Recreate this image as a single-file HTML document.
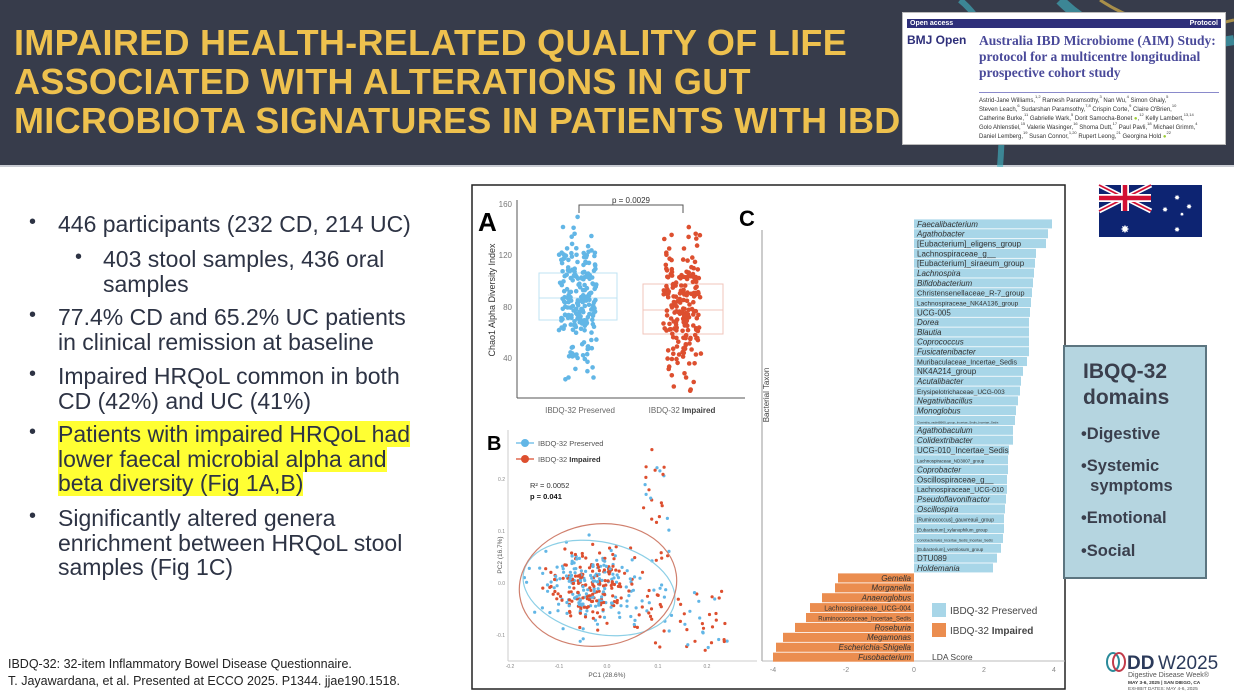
<!DOCTYPE html>
<html><head><meta charset="utf-8">
<style>
*{margin:0;padding:0;box-sizing:border-box}
body{width:1234px;height:691px;overflow:hidden;background:#fff;font-family:"Liberation Sans",Arial,sans-serif;position:relative}
#hdr{position:absolute;left:0;top:0;width:1234px;height:167px;background:#373c4b;border-bottom:2px solid #c9ccd3}
#title{position:absolute;left:14px;top:23px;color:#eec14e;font-weight:bold;font-size:36px;line-height:39px;letter-spacing:0.3px;white-space:nowrap}
.t{position:absolute;color:#2d3344;font-size:23px;line-height:24.5px;white-space:nowrap}
.dot{position:absolute;color:#2d3344;font-size:20px}
.hl{background:#ffff33}
.fn{position:absolute;left:8px;font-size:12.5px;color:#222}
#paper{position:absolute;left:902px;top:12px;width:324px;height:133px;background:#fff;border:1px solid #bbb;overflow:hidden}
#ibq{position:absolute;left:1063px;top:345px;width:144px;height:234px;background:#b5d5e0;border:2px solid #5c7580;color:#3a3f4d;font-weight:bold}
.s{font-size:4px;vertical-align:top;line-height:0}
</style></head><body>
<div id="hdr">
<svg width="1234" height="167" style="position:absolute;left:0;top:0">
<path d="M960 0 Q1010 40 1000 167" stroke="#3fb7c7" stroke-width="6" fill="none" opacity="0.6"/>
<path d="M1060 0 Q1120 60 1234 40" stroke="#3fb7c7" stroke-width="10" fill="none" opacity="0.6"/>
<path d="M1100 0 Q1160 40 1234 20" stroke="#d9b24a" stroke-width="3" fill="none" opacity="0.7"/>
</svg>
<div id="title">IMPAIRED HEALTH-RELATED QUALITY OF LIFE<br>ASSOCIATED WITH ALTERATIONS IN GUT<br>MICROBIOTA SIGNATURES IN PATIENTS WITH IBD</div>
<div id="paper">
<div style="position:absolute;left:4px;top:6px;width:314px;height:9px;background:#2e2f7a;color:#fff;font-size:7px;font-weight:bold;line-height:9px;padding:0 3px">Open access<span style="float:right">Protocol</span></div>
<div style="position:absolute;left:4px;top:20px;font-size:12px;font-weight:bold;color:#2e2f7a">BMJ Open</div>
<div style="position:absolute;left:76px;top:20px;font-family:'Liberation Serif',serif;font-weight:bold;font-size:13.5px;line-height:16px;color:#4a4a9a;white-space:nowrap">Australia IBD Microbiome (AIM) Study:<br>protocol for a multicentre longitudinal<br>prospective cohort study</div>
<div style="position:absolute;left:76px;top:79px;width:240px;border-top:1px solid #8a8acb"></div>
<div style="position:absolute;left:76px;top:84px;font-size:6px;line-height:9px;color:#333;white-space:nowrap">Astrid-Jane Williams,<span class="s">1,2</span> Ramesh Paramsothy,<span class="s">3</span> Nan Wu,<span class="s">4</span> Simon Ghaly,<span class="s">5</span><br>Steven Leach,<span class="s">6</span> Sudarshan Paramsothy,<span class="s">7,8</span> Crispin Corte,<span class="s">9</span> Claire O'Brien,<span class="s">10</span><br>Catherine Burke,<span class="s">11</span> Gabrielle Wark,<span class="s">5</span> Dorit Samocha-Bonet <span style="color:#9c3">●</span>,<span class="s">12</span> Kelly Lambert,<span class="s">13,14</span><br>Golo Ahlenstiel,<span class="s">15</span> Valerie Wasinger,<span class="s">16</span> Shoma Dutt,<span class="s">17</span> Paul Pavli,<span class="s">18</span> Michael Grimm,<span class="s">4</span><br>Daniel Lemberg,<span class="s">19</span> Susan Connor,<span class="s">1,20</span> Rupert Leong,<span class="s">21</span> Georgina Hold <span style="color:#9c3">●</span><span class="s">22</span></div>
</div>
</div>

<div class="dot" style="left:29px;top:211px">•</div><div class="t" style="left:58px;top:212px">446 participants (232 CD, 214 UC)</div>
<div class="dot" style="left:75px;top:246px">•</div><div class="t" style="left:103px;top:247px">403 stool samples, 436 oral<br>samples</div>
<div class="dot" style="left:29px;top:304px">•</div><div class="t" style="left:58px;top:305px">77.4% CD and 65.2% UC patients<br>in clinical remission at baseline</div>
<div class="dot" style="left:29px;top:363px">•</div><div class="t" style="left:58px;top:364px">Impaired HRQoL common in both<br>CD (42%) and UC (41%)</div>
<div class="dot" style="left:29px;top:421px">•</div><div class="t" style="left:58px;top:422px"><span class="hl">Patients with impaired HRQoL had</span><br><span class="hl">lower faecal microbial alpha and</span><br><span class="hl">beta diversity (Fig 1A,B)</span></div>
<div class="dot" style="left:29px;top:505px">•</div><div class="t" style="left:58px;top:506px">Significantly altered genera<br>enrichment between HRQoL stool<br>samples (Fig 1C)</div>
<div class="fn" style="top:657px">IBDQ-32: 32-item Inflammatory Bowel Disease Questionnaire.</div>
<div class="fn" style="top:674px">T. Jayawardana, et al. Presented at ECCO 2025. P1344. jjae190.1518.</div>

<svg id="fig" width="1234" height="691" style="position:absolute;left:0;top:0" font-family="Liberation Sans, Arial, sans-serif">
<rect x="472" y="185" width="593" height="504" fill="#fff" stroke="#222" stroke-width="1.5"/>
<text x="478" y="231" font-size="26" font-weight="900">A</text>
<line x1="517" y1="200" x2="517" y2="398" stroke="#555"/>
<line x1="517" y1="398" x2="745" y2="398" stroke="#555"/>
<g font-size="8" fill="#777" text-anchor="end"><text x="512" y="207">160</text><text x="512" y="258">120</text><text x="512" y="310">80</text><text x="512" y="361">40</text></g>
<text transform="translate(495,300) rotate(-90)" font-size="9" fill="#333" text-anchor="middle">Chao1 Alpha Diversity Index</text>
<g font-size="8" fill="#666" text-anchor="middle"><text x="580" y="413">IBDQ-32 Preserved</text><text x="682" y="413">IBDQ-32 <tspan font-weight="bold" fill="#444">Impaired</tspan></text></g>
<rect x="539" y="273" width="78" height="47" fill="none" stroke="#bfe3f3"/><line x1="539" y1="298" x2="617" y2="298" stroke="#bfe3f3"/>
<rect x="643" y="284" width="80" height="50" fill="none" stroke="#f2c4bb"/><line x1="643" y1="310" x2="723" y2="310" stroke="#f2c4bb"/>
<path d="M579 213 V205 H683 V213" stroke="#555" fill="none"/>
<text x="631" y="203" font-size="8" text-anchor="middle" fill="#333">p = 0.0029</text>
<g id="ptsA"></g>
<text x="487" y="450" font-size="20" font-weight="900">B</text>
<line x1="508" y1="430" x2="508" y2="661" stroke="#ccc"/>
<line x1="508" y1="661" x2="757" y2="661" stroke="#ccc"/>
<g font-size="5" fill="#888" text-anchor="middle"><text x="510" y="668">-0.2</text><text x="559" y="668">-0.1</text><text x="607" y="668">0.0</text><text x="658" y="668">0.1</text><text x="707" y="668">0.2</text></g>
<g font-size="5" fill="#888" text-anchor="end"><text x="505" y="481">0.2</text><text x="505" y="533">0.1</text><text x="505" y="585">0.0</text><text x="505" y="637">-0.1</text></g>
<text x="607" y="677" font-size="6.5" fill="#555" text-anchor="middle">PC1 (28.6%)</text>
<text transform="translate(502,555) rotate(-90)" font-size="6.5" fill="#555" text-anchor="middle">PC2 (16.7%)</text>
<line x1="516" y1="443" x2="534" y2="443" stroke="#7cc4ea" stroke-width="1.5"/><circle cx="525" cy="443" r="4" fill="#62b6e6"/>
<line x1="516" y1="459" x2="534" y2="459" stroke="#e06a50" stroke-width="1.5"/><circle cx="525" cy="459" r="4" fill="#dd4f2f"/>
<text x="538" y="446" font-size="7.5" fill="#555">IBDQ-32 Preserved</text>
<text x="538" y="462" font-size="7.5" fill="#555">IBDQ-32 <tspan font-weight="bold" fill="#333">Impaired</tspan></text>
<text x="530" y="488" font-size="7.5" fill="#333">R² = 0.0052</text>
<text x="530" y="499" font-size="7.5" font-weight="bold" fill="#111">p = 0.041</text>
<g id="ptsB"></g>
<ellipse cx="599" cy="588" rx="77" ry="46" transform="rotate(12 599 588)" fill="none" stroke="#8ccfe6" stroke-width="1.2"/>
<ellipse cx="598" cy="585" rx="79" ry="61" transform="rotate(-8 598 585)" fill="none" stroke="#d0806e" stroke-width="1.2"/>
<text x="739" y="226" font-size="22" font-weight="900">C</text>
<line x1="762" y1="230" x2="762" y2="661" stroke="#999"/>
<line x1="762" y1="661" x2="1065" y2="661" stroke="#bbb"/>
<g font-size="7" fill="#888" text-anchor="middle"><text x="773" y="672">-4</text><text x="846" y="672">-2</text><text x="914" y="672">0</text><text x="984" y="672">2</text><text x="1054" y="672">4</text></g>
<text transform="translate(769,395) rotate(-90)" font-size="8" fill="#444" text-anchor="middle">Bacterial Taxon</text>
<g id="bars"></g>
<rect x="932" y="603" width="14" height="14" fill="#a8d6e8"/>
<rect x="932" y="623" width="14" height="14" fill="#eb8d4f"/>
<text x="950" y="614" font-size="10" fill="#444">IBDQ-32 Preserved</text>
<text x="950" y="634" font-size="10" fill="#444">IBDQ-32 <tspan font-weight="bold">Impaired</tspan></text>
<text x="932" y="660" font-size="8.5" fill="#444">LDA Score</text>
<g transform="translate(1099,185)">
<rect width="103" height="52" fill="#0d2472"/>
<path d="M0 0 L52 26 M52 0 L0 26" stroke="#fff" stroke-width="5"/>
<path d="M0 0 L52 26 M52 0 L0 26" stroke="#d21034" stroke-width="1.8"/>
<path d="M26 0 V26 M0 13 H52" stroke="#fff" stroke-width="8"/>
<path d="M26 0 V26 M0 13 H52" stroke="#d21034" stroke-width="4.5"/>
<g fill="#fff" font-size="11" text-anchor="middle"><text x="26" y="48">✸</text><text x="78" y="15" font-size="7">✸</text><text x="66" y="27" font-size="7">✸</text><text x="90" y="24" font-size="7">✸</text><text x="83" y="31" font-size="5">✸</text><text x="78" y="47" font-size="7">✸</text></g>
</g>
<g transform="translate(1106,650)">
<ellipse cx="7" cy="12" rx="6" ry="9" fill="none" stroke="#2a8a9a" stroke-width="2"/>
<ellipse cx="13" cy="12" rx="6" ry="9" fill="none" stroke="#c23b4a" stroke-width="2"/>
<text x="21" y="19" font-size="19" font-weight="bold" fill="#2b3a5a">DD</text>
<text x="52" y="19" font-size="19" fill="#2b3a5a">W2025</text>
<text x="22" y="27" font-size="7" fill="#555">Digestive Disease Week®</text>
<text x="22" y="34" font-size="4.8" font-weight="bold" fill="#333">MAY 3-6, 2025 | SAN DIEGO, CA</text>
<text x="22" y="40" font-size="4.8" fill="#555">EXHIBIT DATES: MAY 4-6, 2025</text>
</g>
</svg>

<div id="ibq">
<div style="position:absolute;left:18px;top:12px;font-size:21px;line-height:26px">IBQQ-32<br>domains</div>
<div style="position:absolute;left:16px;top:77px;font-size:16.5px;line-height:20px">
<div>•Digestive</div>
<div style="margin-top:12px">•Systemic<br>&nbsp;&nbsp;symptoms</div>
<div style="margin-top:12px">•Emotional</div>
<div style="margin-top:13px">•Social</div>
</div>
</div>

<script>
var NS="http://www.w3.org/2000/svg";
var s=12345;function r(){s=(s*16807)%2147483647;return s/2147483647;}
function g(){var u=0;for(var i=0;i<6;i++)u+=r();return (u-3)/0.707;}
function c(p,x,y,rad,f){var e=document.createElementNS(NS,"circle");e.setAttribute("cx",x.toFixed(1));e.setAttribute("cy",y.toFixed(1));e.setAttribute("r",rad);e.setAttribute("fill",f);p.appendChild(e);}
var A=document.getElementById("ptsA");
function yA(v){return 307-(v-80)*1.2875;}
for(var i=0;i<210;i++){var v=87+g()*26;v=Math.max(18,Math.min(150,v));c(A,578+(r()-0.5)*38,yA(v),2.3,"#62b6e6");}
for(var i=0;i<200;i++){var v=78+g()*27;v=Math.max(15,Math.min(148,v));c(A,682+(r()-0.5)*38,yA(v),2.3,"#dd4f2f");}
var B=document.getElementById("ptsB");
function px(v){return 607+v*490;} function py(v){return 583-v*520;}
for(var i=0;i<420;i++){var red=r()<0.5;var x,y,q=r();
 if(q<0.8){x=-0.035+g()*0.045;y=-0.005+g()*0.035;}
 else if(q<0.88){x=0.07+r()*0.06;y=0.03+r()*0.24;}
 else{x=0.05+r()*0.2;y=-0.13+r()*0.12;}
 c(B,px(x),py(y),1.6,red?"#dd4f2f":"#62b6e6");}
var bars=document.getElementById("bars");
var blue=[["Faecalibacterium",1052,1,8],["Agathobacter",1048,1,8],["[Eubacterium]_eligens_group",1046,0,8],["Lachnospiraceae_g__",1036,0,8],["[Eubacterium]_siraeum_group",1035,0,8],["Lachnospira",1034,1,8],["Bifidobacterium",1033,1,8],["Christensenellaceae_R-7_group",1032,0,7.5],["Lachnospiraceae_NK4A136_group",1031,0,6.5],["UCG-005",1030,0,8],["Dorea",1029,1,8],["Blautia",1029,1,8],["Coprococcus",1029,1,8],["Fusicatenibacter",1029,1,8],["Muribaculaceae_Incertae_Sedis",1027,0,7],["NK4A214_group",1023,0,8],["Acutalibacter",1021,1,8],["Erysipelotrichaceae_UCG-003",1020,0,6.5],["Negativibacillus",1018,1,8],["Monoglobus",1016,1,8],["Clostridia_vadinBB60_group_Incertae_Sedis_Incertae_Sedis",1015,0,3],["Agathobaculum",1013,1,8],["Colidextribacter",1013,1,8],["UCG-010_Incertae_Sedis",1009,0,8],["Lachnospiraceae_ND3007_group",1008,0,4.5],["Coprobacter",1008,1,8],["Oscillospiraceae_g__",1007,0,8],["Lachnospiraceae_UCG-010",1007,0,7],["Pseudoflavonifractor",1006,1,8],["Oscillospira",1005,1,8],["[Ruminococcus]_gauvreauii_group",1004,0,5],["[Eubacterium]_xylanophilum_group",1004,0,4.5],["Coriobacteriales_Incertae_Sedis_Incertae_Sedis",1003,0,3.5],["[Eubacterium]_ventriosum_group",1001,0,4.5],["DTU089",997,0,8],["Holdemania",993,1,8]];
var st=(568-224)/(blue.length-1);
blue.forEach(function(b,i){var y=224+i*st;var R=document.createElementNS(NS,"rect");R.setAttribute("x",914);R.setAttribute("y",y-4.6);R.setAttribute("width",b[1]-914);R.setAttribute("height",st-0.8);R.setAttribute("fill","#a8d6e8");bars.appendChild(R);
var t=document.createElementNS(NS,"text");t.setAttribute("x",917);t.setAttribute("y",y+2.8);t.setAttribute("font-size",b[3]);t.setAttribute("fill","#333");if(b[2])t.setAttribute("font-style","italic");t.textContent=b[0];bars.appendChild(t);});
var org=[["Gemella",838,1,8],["Morganella",835,1,8],["Anaeroglobus",822,1,8],["Lachnospiraceae_UCG-004",810,0,7],["Ruminococcaceae_Incertae_Sedis",806,0,6],["Roseburia",795,1,8],["Megamonas",783,1,8],["Escherichia-Shigella",776,1,8],["Fusobacterium",773,1,8]];
org.forEach(function(b,i){var y=578+i*9.9;var R=document.createElementNS(NS,"rect");R.setAttribute("x",b[1]);R.setAttribute("y",y-4.6);R.setAttribute("width",914-b[1]);R.setAttribute("height",9.1);R.setAttribute("fill","#eb8d4f");bars.appendChild(R);
var t=document.createElementNS(NS,"text");t.setAttribute("x",911);t.setAttribute("y",y+2.8);t.setAttribute("text-anchor","end");t.setAttribute("font-size",b[3]);t.setAttribute("fill","#333");if(b[2])t.setAttribute("font-style","italic");t.textContent=b[0];bars.appendChild(t);});
</script>
</body></html>
